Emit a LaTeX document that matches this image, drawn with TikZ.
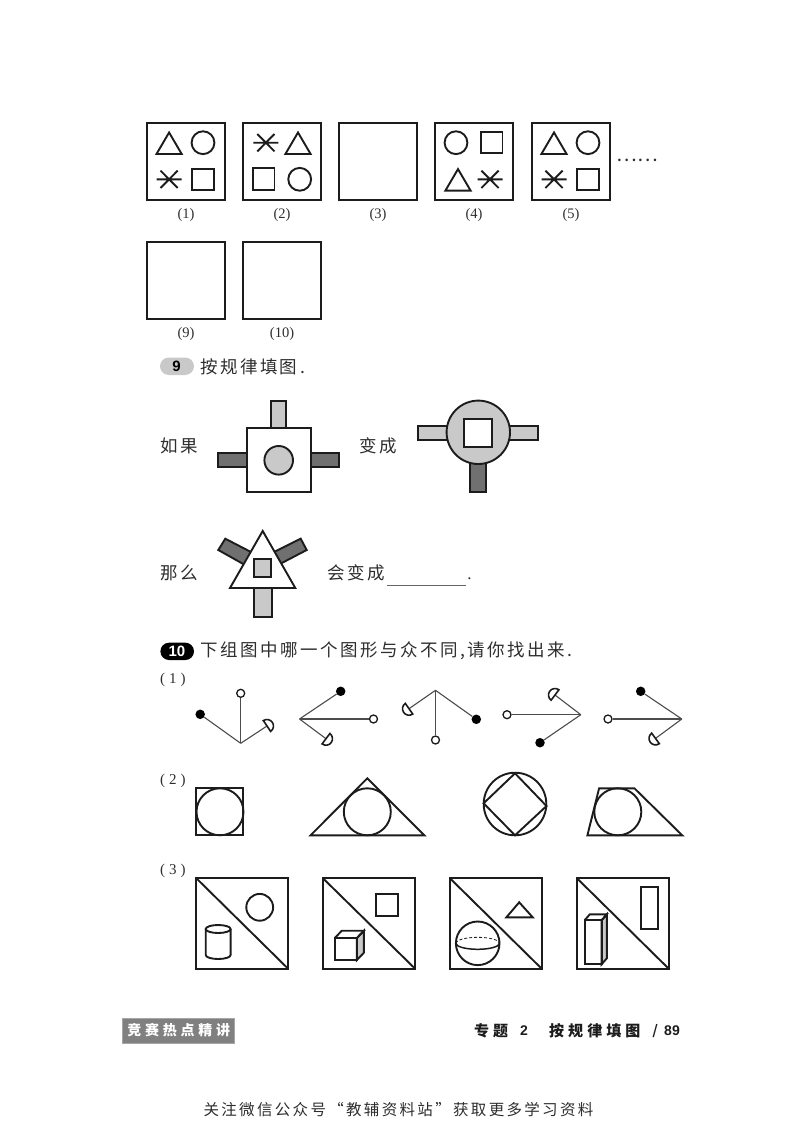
\documentclass[tikz,border=0pt]{standalone}
\usepackage{fontspec}
\setmainfont{Liberation Serif}
\newfontfamily\cjk[LetterSpace=14]{Noto Sans CJK SC}
\newfontfamily\cjkplain{Noto Sans CJK SC}
\newfontfamily\cjkfoot[LetterSpace=27]{Noto Sans CJK SC}
\newfontfamily\cjkwm[LetterSpace=15]{Noto Sans CJK SC}
\newfontfamily\hv{Liberation Sans}
\definecolor{ink}{HTML}{1C1C1C}
\definecolor{txt}{HTML}{2E2E2E}
\definecolor{lite}{HTML}{C9C9C9}
\definecolor{dark}{HTML}{707070}
\tikzset{
  ln/.style={draw=ink,line width=1.9pt,line join=miter},
  thinln/.style={draw=black!70,line width=1.1pt},
  lab/.style={inner sep=0pt,text=txt,font=\fontsize{14.5}{14.5}\selectfont},
  cn/.style={inner sep=0pt,anchor=west,text=txt,font=\fontsize{17.5}{17.5}\selectfont\cjk},
  sublab/.style={inner sep=0pt,anchor=west,text=txt,font=\fontsize{15}{15}\selectfont},
  opendot/.style={circle,draw=ink,line width=1.3pt,fill=white,minimum size=8pt,inner sep=0pt},
  blackdot/.style={circle,fill=black,minimum size=9.5pt,inner sep=0pt},
  bar/.style={ln,line width=1.9pt},
}
% panel shapes, by centre
\newcommand{\Tri}[2]{\draw[ln] (#1,#2-10.5) -- (#1+12.6,#2+11) -- (#1-12.6,#2+11) -- cycle;}
\newcommand{\Cir}[2]{\draw[ln] (#1,#2) circle[radius=11.4];}
\newcommand{\Sqr}[2]{\draw[ln] (#1-10.8,#2-10.7) rectangle (#1+10.8,#2+10.7);}
\newcommand{\Star}[2]{\draw[ln] (#1-12.5,#2) -- (#1+12.5,#2) (#1-8.6,#2-8.7) -- (#1+8.6,#2+8.7) (#1-8.6,#2+8.7) -- (#1+8.6,#2-8.7);}
% half disc: flat edge centred on named coordinate #1, bulging to angle #2
\newcommand{\Half}[2]{\draw[ln,fill=white,line width=1.6pt] (#1) ++({#2-90}:6.5) arc[start angle={#2-90},end angle={#2+90},radius=6.5] -- cycle;}
\begin{document}
\begin{tikzpicture}[x=1pt,y=-1pt]
\useasboundingbox (0,0) rectangle (800,1122);
\fill[white] (0,0) rectangle (800,1122);

% ---- top panels
\foreach \n/\xx/\yy in {p1/146/122,p2/242/122,p3/338/122,p4/434/122,p5/531/122,p9/146/241,p10/242/241}
  \node[draw=ink,line width=2pt,minimum width=78pt,minimum height=77pt,inner sep=0pt,anchor=north west] (\n) at (\xx,\yy) {};
\Tri{169.1}{143}\Cir{203}{142.7}\Star{169.1}{179.3}\Sqr{203}{179.3}
\Star{265.9}{142.7}\Tri{298}{143}\Sqr{263.7}{179}\Cir{299.7}{179.3}
\Cir{456}{142.7}\Sqr{491.7}{142.7}\Tri{458}{179.6}\Star{490}{179.3}
\Tri{554}{143}\Cir{588}{142.7}\Star{554}{179.3}\Sqr{588}{179.3}
\foreach \n/\t in {p1/(1),p2/(2),p3/(3),p4/(4),p5/(5)}
  \node[lab] (l\n) at ([yshift=-14.5pt]\n.south) {\t};
\node[lab] (lp9) at ([yshift=-14.5pt]p9.south) {(9)};
\node[lab] (lp10) at ([yshift=-14.5pt]p10.south) {(10)};
\node[inner sep=0pt,text=txt,font=\fontsize{19.5}{19.5}\selectfont\cjkplain] (dots) at (637.5,160.7) {……};

% ---- question 9
\draw[fill=lite,draw=none,rounded corners=8.8pt] (160,357.5) rectangle (194,375);
\node[inner sep=0pt,font=\fontsize{15}{15}\selectfont\hv\bfseries,text=black] (n9) at (176.5,366.5) {9};
\node[cn] (q9) at (200,366.5) {按规律填图\,.};

\node[cn] (ruguo) at (160,446) {如果};
\draw[bar,fill=lite] (271,401) rectangle (286,428.3);
\draw[bar,fill=dark] (218.3,453.3) rectangle (246.7,467.3);
\draw[bar,fill=dark] (310.7,453.3) rectangle (339,467.3);
\draw[ln,fill=white] (246.7,428.3) rectangle (310.7,492.3);
\draw[ln,fill=lite] (278.7,460.3) circle[radius=14.3];

\node[cn] (biancheng) at (359.5,446) {变成};
\draw[bar,fill=lite] (417.7,426) rectangle (448,440);
\draw[bar,fill=lite] (508,426) rectangle (538.3,440);
\draw[bar,fill=dark] (470.3,462) rectangle (485.7,492.3);
\draw[ln,fill=lite] (478.3,432.3) circle[radius=31.7];
\draw[ln,fill=white] (464,419) rectangle (492,446.7);

\node[cn] (name) at (160,573) {那么};
\draw[bar,fill=dark] (225.3,538.7) -- (218.3,550) -- (245,565) -- (251,552) -- cycle;
\draw[bar,fill=dark] (300.7,538.7) -- (306.7,550) -- (278,565) -- (274,552) -- cycle;
\draw[bar,fill=lite] (253.7,586) rectangle (271.7,616.7);
\draw[ln,fill=white] (262.7,531) -- (295.3,588) -- (230,588) -- cycle;
\draw[bar,fill=lite] (254,559.3) rectangle (271.3,576.7);
\node[cn] (hui) at (327,573) {会变成};
\coordinate (u1) at (387.3,585.3); \coordinate (u2) at (466,585.3);
\draw[draw=black!60,line width=0.9pt] (u1) -- (u2);
\node[inner sep=0pt,text=txt,font=\fontsize{17}{17}\selectfont] (pd) at (469.5,579) {.};

% ---- question 10
\draw[fill=black,draw=none,rounded corners=8.6pt] (160.4,642.7) rectangle (194,660);
\node[inner sep=0pt,font=\fontsize{15}{15}\selectfont\hv\bfseries,text=white] (n10) at (177,651.3) {10};
\node[cn] (q10) at (200.5,650.7) {下组图中哪一个图形与众不同,请你找出来.};

\node[sublab] (s1) at (160,680) {(\kern4pt 1\kern4pt)};
\node[sublab] (s2) at (160,780.7) {(\kern4pt 2\kern4pt)};
\node[sublab] (s3) at (160,870.7) {(\kern4pt 3\kern4pt)};

% row 1
\coordinate (a0) at (240.7,743.3); \coordinate (ah) at (267,726);
\node[opendot] (ao) at (240.7,693.3) {}; \node[blackdot] (ab) at (200.2,714.3) {};
\draw[thinln] (a0) -- (ao); \draw[thinln] (a0) -- (ab); \draw[thinln] (a0) -- (ah); \Half{ah}{-34}

\coordinate (b0) at (299.5,719); \coordinate (bh) at (326,738.7);
\node[opendot] (bo) at (373.5,719) {}; \node[blackdot] (bb) at (340.7,691.3) {};
\draw[thinln] (b0) -- (bo); \draw[thinln] (b0) -- (bb); \draw[thinln] (b0) -- (bh); \Half{bh}{37}

\coordinate (c0) at (435.5,690.3); \coordinate (ch) at (409,708.7);
\node[opendot] (co) at (435.5,740) {}; \node[blackdot] (cb) at (476.3,719.3) {};
\draw[thinln] (c0) -- (co); \draw[thinln] (c0) -- (cb); \draw[thinln] (c0) -- (ch); \Half{ch}{145}

\coordinate (d0) at (580.8,714.7); \coordinate (dh) at (555,695);
\node[opendot] (do) at (507,714.7) {}; \node[blackdot] (db) at (540,742.7) {};
\draw[thinln] (d0) -- (do); \draw[thinln] (d0) -- (db); \draw[thinln] (d0) -- (dh); \Half{dh}{-143}

\coordinate (e0) at (681.8,719); \coordinate (eh) at (655.5,738.4);
\node[opendot] (eo) at (608,719) {}; \node[blackdot] (eb) at (640.7,691.3) {};
\draw[thinln] (e0) -- (eo); \draw[thinln] (e0) -- (eb); \draw[thinln] (e0) -- (eh); \Half{eh}{144}

% row 2
\draw[ln] (196.4,788.3) rectangle (243.4,835.3);
\draw[ln] (220,811.8) circle[radius=23.5];
\draw[ln] (367.3,778.3) -- (424.4,835.3) -- (310.6,835.3) -- cycle;
\draw[ln] (367.3,811.8) circle[radius=23.5];
\draw[ln] (515,804) circle[radius=31.3];
\draw[ln] (515,773.3) -- (546.5,806) -- (515,835.3) -- (483.6,803.3) -- cycle;
\draw[ln] (599.1,788.3) -- (634.4,788.3) -- (682.2,835.3) -- (587.4,835.3) -- cycle;
\draw[ln] (617.8,811.8) circle[radius=23.5];

% row 3
\foreach \xa/\xb in {196.4/288.4,323/415.4,450/542,577/669}{
  \draw[ln] (\xa,878.3) rectangle (\xb,969);
  \draw[ln] (\xa,878.3) -- (\xb,969);
}
% panel 1
\draw[ln] (259.7,907.3) circle[radius=13.4];
\draw[ln] (218.15,929) ellipse[x radius=12.45,y radius=4];
\draw[ln] (205.7,929) -- (205.7,955) arc[start angle=180,end angle=0,x radius=12.45,y radius=4] -- (230.6,929);
% panel 2
\draw[ln] (376.3,894) rectangle (398.4,916);
\draw[ln,fill=lite] (356.9,938) -- (363.9,930.7) -- (363.9,952.7) -- (356.9,960) -- cycle;
\draw[ln] (334.8,938) -- (341.8,930.7) -- (363.9,930.7) -- (356.9,938);
\draw[ln] (334.8,938) rectangle (356.9,960);
% panel 3
\draw[ln] (519.2,902.3) -- (532.7,917.3) -- (506.4,917.3) -- cycle;
\draw[ln] (477.7,943.3) circle[radius=21.8];
\draw[ln,line width=1.5pt] (455.9,943.3) arc[start angle=180,end angle=0,x radius=21.8,y radius=6];
\draw[draw=ink,line width=0.8pt,dash pattern=on 3pt off 2pt] (455.9,943.3) arc[start angle=180,end angle=0,x radius=21.8,y radius=-6];
% panel 4
\draw[ln] (641.4,886.7) rectangle (658,928.7);
\draw[ln,fill=lite] (601.6,920.3) -- (606.8,914.3) -- (606.8,958.3) -- (601.6,964.3) -- cycle;
\draw[ln] (584.6,920.3) -- (589.8,914.3) -- (606.8,914.3) -- (601.6,920.3);
\draw[ln] (584.6,920.3) rectangle (601.6,964.3);

% ---- footer
\node[fill=black!50,minimum width=112pt,minimum height=25pt,inner sep=0pt,anchor=west,text=white,font=\fontsize{14}{14}\selectfont\cjkfoot\bfseries,draw=black!35,line width=0.5pt] (tag) at (122,1030.5) {\kern1pt 竞赛热点精讲};
\node[inner sep=0pt,anchor=west,text=ink,font=\fontsize{15}{15}\selectfont\cjkfoot\bfseries] (f1) at (474,1031) {专题};
\node[inner sep=0pt,text=ink,font=\fontsize{14}{14}\selectfont\hv\bfseries] (f2) at (524,1031) {2};
\node[inner sep=0pt,anchor=west,text=ink,font=\fontsize{15}{15}\selectfont\cjkfoot\bfseries] (f3) at (549,1031) {按规律填图};
\node[inner sep=0pt,text=ink,font=\fontsize{18}{18}\selectfont\hv] (f4) at (655,1031) {/};
\node[inner sep=0pt,text=ink,font=\fontsize{14}{14}\selectfont\hv\bfseries] (f5) at (672,1031) {89};
\node[inner sep=0pt,text=txt,font=\fontsize{15.5}{15.5}\selectfont\cjkwm] (wm) at (398.5,1110) {关注微信公众号“教辅资料站”获取更多学习资料};
\end{tikzpicture}
\end{document}
